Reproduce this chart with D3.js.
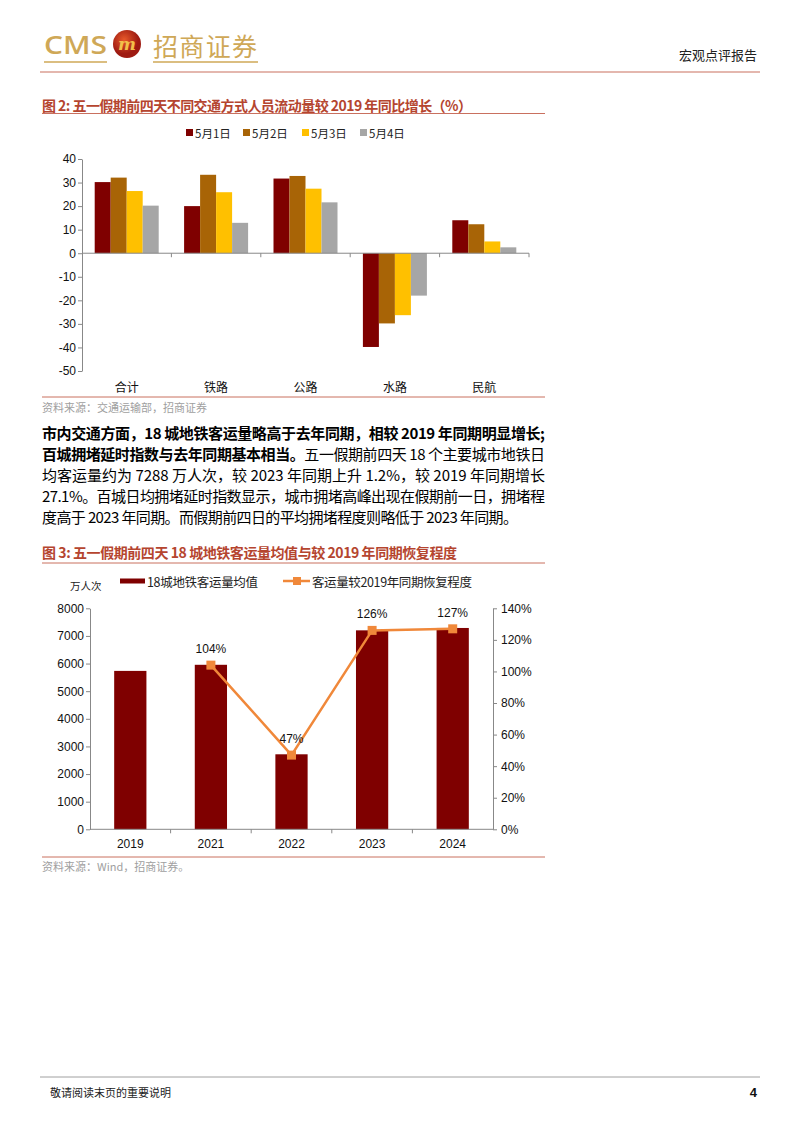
<!DOCTYPE html>
<html><head><meta charset="utf-8">
<script src="https://cdn.jsdelivr.net/npm/d3@7/dist/d3.min.js"></script>
<style>body{margin:0;background:#fff}svg{display:block}</style>
</head><body>
<svg id="page" width="802" height="1133"></svg>
<script>
// ---------- data ----------
const modes = ["合计","铁路","公路","水路","民航"];
const days = ["5月1日","5月2日","5月3日","5月4日"];
const growthMay1 = [30.2, 20.0, 31.7, -39.8, 14.0];
const growthMay2 = [32.1, 33.3, 32.8, -29.8, 12.3];
const growthMay3 = [26.4, 25.9, 27.4, -26.3, 5.0];
const growthMay4 = [20.2, 12.9, 21.6, -18.0, 2.5];
const growthTicks = [40,30,20,10,0,-10,-20,-30,-40,-50];

const years = ["2019","2021","2022","2023","2024"];
const metroAvg = [5734, 5955, 2715, 7202, 7288];
const recoveryYears = ["2021","2022","2023","2024"];
const recoveryPct = [1.04, 0.47, 1.26, 1.27];
const recoveryLabels = ["104%","47%","126%","127%"];
const leftTicks = [0,1000,2000,3000,4000,5000,6000,7000,8000];
const rightTicks = [0,0.2,0.4,0.6,0.8,1.0,1.2,1.4];

const dayColors = ["#7F0000","#A86406","#FFC000","#A6A6A6"];
const barRed = "#7F0000", lineOrange = "#F0883A";
const gold = "#CFA857", titleRed = "#B5452F", ruleRed = "#C9705F";
const sansF = "'Liberation Sans', Arial, sans-serif";
const cjkF = "'Noto Sans CJK SC', sans-serif";

const svg = d3.select("#page");
svg.append("rect").attr("width",802).attr("height",1133).attr("fill","#fff");

// ---------- header ----------
svg.append("text").attr("x",44).attr("y",54).attr("font-family","'Open Sans', 'DejaVu Sans', sans-serif")
  .attr("font-size",26).attr("font-weight",600).attr("fill",gold)
  .attr("textLength",63).attr("lengthAdjust","spacingAndGlyphs").text("CMS");
const grad = svg.append("defs").append("radialGradient").attr("id","lg").attr("cx","40%").attr("cy","35%");
grad.append("stop").attr("offset","0%").attr("stop-color","#E8592A");
grad.append("stop").attr("offset","100%").attr("stop-color","#9E1B12");
svg.append("circle").attr("cx",127).attr("cy",44).attr("r",14).attr("fill","url(#lg)");
svg.append("text").attr("x",127).attr("y",50).attr("text-anchor","middle").attr("font-family","'DejaVu Serif', serif")
  .attr("font-size",17).attr("font-weight",700).attr("font-style","italic").attr("fill","#F2C04A").text("m");
svg.append("text").attr("x",153).attr("y",56).attr("font-family",cjkF).attr("font-size",25)
  .attr("fill",gold).attr("textLength",104).text("招商证券");
svg.append("line").attr("x1",44).attr("x2",107).attr("y1",62).attr("y2",62).attr("stroke",gold).attr("stroke-width",1.5);
svg.append("line").attr("x1",153).attr("x2",258).attr("y1",62).attr("y2",62).attr("stroke",gold).attr("stroke-width",1.5);
svg.append("line").attr("x1",40).attr("x2",760).attr("y1",72).attr("y2",72).attr("stroke",ruleRed).attr("stroke-width",1.2);
svg.append("text").attr("x",757).attr("y",60).attr("text-anchor","end").attr("font-family",cjkF)
  .attr("font-size",13).attr("fill","#222").text("宏观点评报告");

// ---------- helpers ----------
function title(y, txt, w){
  svg.append("text").attr("x",42).attr("y",y).attr("dominant-baseline","central")
    .attr("font-family",cjkF).attr("font-size",14).attr("font-weight",700).attr("fill",titleRed)
    .attr("textLength",w).text(txt);
}
function rule(y,color){
  svg.append("line").attr("x1",42).attr("x2",545).attr("y1",y).attr("y2",y).attr("stroke",color||ruleRed).attr("stroke-width",1);
}
function source(y, txt){
  svg.append("text").attr("x",42).attr("y",y).attr("dominant-baseline","central")
    .attr("font-family",cjkF).attr("font-size",11).attr("fill","#A0A0A0").text(txt);
}

// ---------- chart 1 ----------
title(105, "图 2:  五一假期前四天不同交通方式人员流动量较 2019 年同比增长（%）", 430);
rule(113.5);

const g1 = svg.append("g");
const x0 = d3.scaleBand().domain(modes).range([82,529]).padding(0);
const pad1 = (x0.bandwidth() - 64)/2;
const x1 = d3.scaleBand().domain(days).range([pad1, x0.bandwidth()-pad1]).padding(0);
const y1 = d3.scaleLinear().domain([-50,40]).range([371,159]);
const series1 = [growthMay1,growthMay2,growthMay3,growthMay4];

// legend
const legX = [186,243,302,360];
days.forEach((d,i)=>{
  g1.append("rect").attr("x",legX[i]).attr("y",129).attr("width",7).attr("height",7).attr("fill",dayColors[i]);
  g1.append("text").attr("x",legX[i]+9).attr("y",133).attr("dominant-baseline","central")
    .attr("font-family",cjkF).attr("font-size",11.5).attr("fill","#222").text(d);
});

series1.forEach((vals,si)=>{
  g1.selectAll(null).data(vals).join("rect")
    .attr("x",(v,i)=>x0(modes[i])+x1(days[si]))
    .attr("width",x1.bandwidth())
    .attr("y",v=>y1(Math.max(0,v)))
    .attr("height",v=>Math.abs(y1(v)-y1(0)))
    .attr("fill",dayColors[si]);
});

const ay1 = g1.append("g").attr("transform","translate(82,0)")
  .call(d3.axisLeft(y1).tickValues(growthTicks).tickFormat(d=>String(d)).tickSize(4).tickSizeOuter(0));
ay1.select(".domain").attr("stroke","#888");
ay1.selectAll(".tick line").attr("stroke","#888");
ay1.selectAll("text").attr("font-family",sansF).attr("font-size",12).attr("fill","#111").attr("x",-6);

// x axis at zero
g1.append("line").attr("x1",82).attr("x2",529).attr("y1",y1(0)).attr("y2",y1(0)).attr("stroke","#888");
modes.forEach((m,i)=>{
  const bx = x0(m)+x0.bandwidth();
  g1.append("line").attr("x1",bx).attr("x2",bx).attr("y1",y1(0)).attr("y2",y1(0)+4).attr("stroke","#888");
  g1.append("text").attr("x",x0(m)+x0.bandwidth()/2).attr("y",386).attr("text-anchor","middle")
    .attr("dominant-baseline","central").attr("font-family",cjkF).attr("font-size",12).attr("fill","#111").text(m);
});
rule(397);
source(407, "资料来源：交通运输部，招商证券");

// ---------- paragraph ----------
const paraLines = [
  [{t:"市内交通方面，18 城地铁客运量略高于去年同期，相较 2019 年同期明显增长;",b:true}],
  [{t:"百城拥堵延时指数与去年同期基本相当。",b:true},{t:"五一假期前四天 18 个主要城市地铁日",b:false}],
  [{t:"均客运量约为 7288 万人次，较 2023 年同期上升 1.2%，较 2019 年同期增长",b:false}],
  [{t:"27.1%。百城日均拥堵延时指数显示，城市拥堵高峰出现在假期前一日，拥堵程",b:false}],
  [{t:"度高于 2023 年同期。而假期前四日的平均拥堵程度则略低于 2023 年同期。",b:false}]
];
const paraY = [432, 453, 474, 495, 516];
const paraW = [503, 503, 503, 503, 476];
paraLines.forEach((segs,i)=>{
  const t = svg.append("text").attr("x",42).attr("y",paraY[i]).attr("dominant-baseline","central")
    .attr("font-family",cjkF).attr("font-size",15).attr("fill","#000")
    .attr("textLength",paraW[i]).attr("lengthAdjust","spacing");
  segs.forEach(s=>t.append("tspan").attr("font-weight",s.b?700:400).text(s.t));
});

// ---------- chart 2 ----------
title(552, "图 3:  五一假期前四天 18 城地铁客运量均值与较 2019 年同期恢复程度", 415);
rule(563);

const g2 = svg.append("g");
const xb = d3.scaleBand().domain(years).range([90,493]).paddingInner(0.6).paddingOuter(0.3);
const yl = d3.scaleLinear().domain([0,8000]).range([829.3,608.3]);
const yr = d3.scaleLinear().domain([0,1.4]).range([829.3,608.3]);

// legend
g2.append("text").attr("x",70).attr("y",585).attr("dominant-baseline","central")
  .attr("font-family",cjkF).attr("font-size",10.5).attr("fill","#222").text("万人次");
g2.append("rect").attr("x",120).attr("y",578.5).attr("width",25).attr("height",5).attr("fill",barRed);
g2.append("text").attr("x",147).attr("y",581).attr("dominant-baseline","central")
  .attr("font-family",cjkF).attr("font-size",12.5).attr("fill","#222").attr("textLength",111).text("18城地铁客运量均值");
g2.append("line").attr("x1",283).attr("x2",310).attr("y1",581).attr("y2",581).attr("stroke",lineOrange).attr("stroke-width",2.5);
g2.append("rect").attr("x",293).attr("y",577).attr("width",8).attr("height",8).attr("fill",lineOrange);
g2.append("text").attr("x",312).attr("y",581).attr("dominant-baseline","central")
  .attr("font-family",cjkF).attr("font-size",12.5).attr("fill","#222").attr("textLength",160).text("客运量较2019年同期恢复程度");

g2.selectAll(null).data(metroAvg).join("rect")
  .attr("x",(v,i)=>xb(years[i])).attr("width",xb.bandwidth())
  .attr("y",v=>yl(v)).attr("height",v=>yl(0)-yl(v)).attr("fill",barRed);

const cx = d=>xb(d)+xb.bandwidth()/2;
const line = d3.line().x((v,i)=>cx(recoveryYears[i])).y(v=>yr(v));
g2.append("path").datum(recoveryPct).attr("d",line).attr("fill","none")
  .attr("stroke",lineOrange).attr("stroke-width",2.5);
g2.selectAll(null).data(recoveryPct).join("rect")
  .attr("x",(v,i)=>cx(recoveryYears[i])-4.5).attr("y",v=>yr(v)-4.5)
  .attr("width",9).attr("height",9).attr("fill",lineOrange);
g2.selectAll(null).data(recoveryPct).join("text")
  .attr("x",(v,i)=>cx(recoveryYears[i])).attr("y",v=>yr(v)-16)
  .attr("text-anchor","middle").attr("dominant-baseline","central")
  .attr("font-family",sansF).attr("font-size",12).attr("fill","#111")
  .text((v,i)=>recoveryLabels[i]);

const al = g2.append("g").attr("transform","translate(90,0)")
  .call(d3.axisLeft(yl).tickValues(leftTicks).tickFormat(d3.format("d")).tickSize(4).tickSizeOuter(0));
const ar = g2.append("g").attr("transform","translate(493,0)")
  .call(d3.axisRight(yr).tickValues(rightTicks).tickFormat(d3.format(".0%")).tickSize(4).tickSizeOuter(0));
[al,ar].forEach(a=>{
  a.select(".domain").attr("stroke","#888");
  a.selectAll(".tick line").attr("stroke","#888");
  a.selectAll("text").attr("font-family",sansF).attr("font-size",12).attr("fill","#111");
});
al.selectAll("text").attr("x",-6);
ar.selectAll("text").attr("x",8);

g2.append("line").attr("x1",90).attr("x2",493).attr("y1",yl(0)).attr("y2",yl(0)).attr("stroke","#888");
years.forEach((yv,i)=>{
  const bx = 90 + xb.step()*(i+1);
  if(i<years.length-1) g2.append("line").attr("x1",bx).attr("x2",bx).attr("y1",yl(0)).attr("y2",yl(0)+4).attr("stroke","#888");
  g2.append("text").attr("x",cx(yv)).attr("y",844).attr("text-anchor","middle").attr("dominant-baseline","central")
    .attr("font-family",sansF).attr("font-size",12).attr("fill","#111").text(yv);
});
rule(857);
source(866, "资料来源：Wind，招商证券。");

// ---------- footer ----------
svg.append("line").attr("x1",40).attr("x2",760).attr("y1",1077).attr("y2",1077).attr("stroke","#A0A0A0").attr("stroke-width",1);
svg.append("text").attr("x",50).attr("y",1092).attr("dominant-baseline","central")
  .attr("font-family",cjkF).attr("font-size",11).attr("fill","#222").text("敬请阅读末页的重要说明");
svg.append("text").attr("x",757).attr("y",1092).attr("text-anchor","end").attr("dominant-baseline","central")
  .attr("font-family",sansF).attr("font-size",13).attr("font-weight",700).attr("fill","#111").text("4");
</script>
</body></html>
